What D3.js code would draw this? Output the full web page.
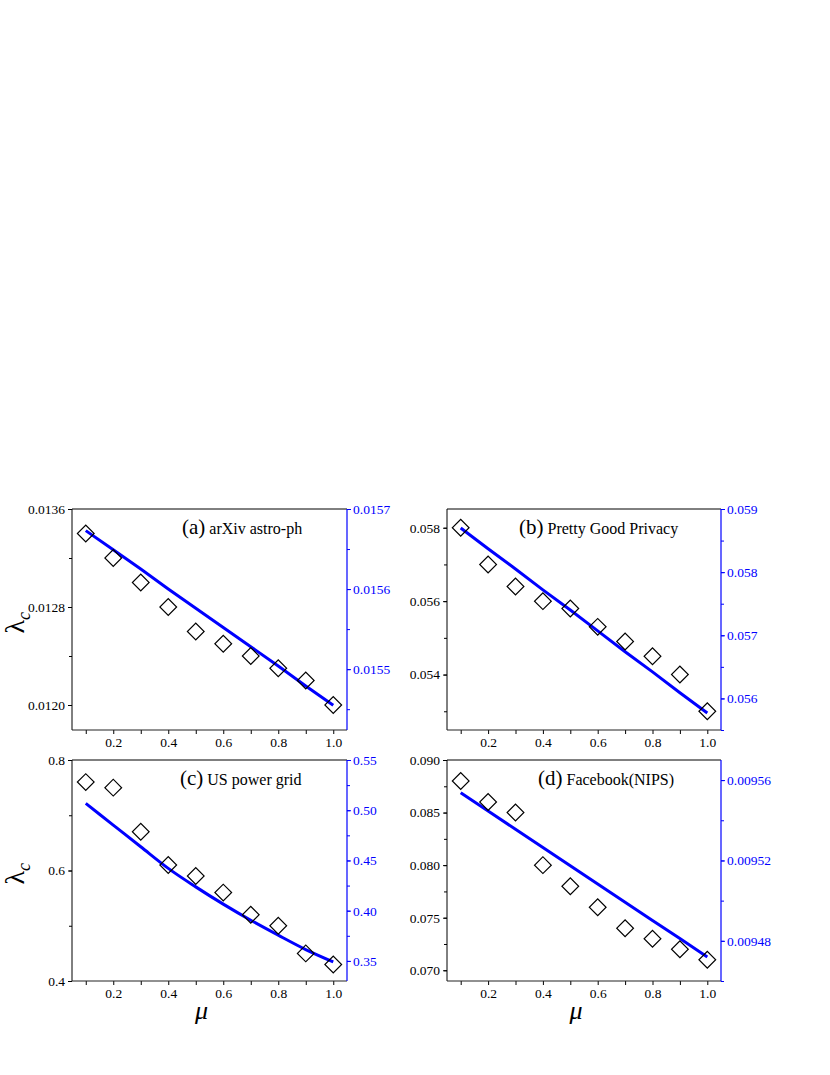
<!DOCTYPE html>
<html>
<head>
<meta charset="utf-8">
<script src="https://cdn.jsdelivr.net/npm/d3@7"></script>
<style>
  body { margin: 0; background: #fff; }
  svg { display: block; }
</style>
</head>
<body>
<svg id="chart" width="830" height="1075"></svg>
<script>
// mu values shared by all four panels
const mu = [0.1, 0.2, 0.3, 0.4, 0.5, 0.6, 0.7, 0.8, 0.9, 1.0];

// simulated lambda_c (diamonds, left axis)
const arxivLambda = [0.01340, 0.01320, 0.01300, 0.01280, 0.01260, 0.01250, 0.01240, 0.01230, 0.01220, 0.01200];
const pgpLambda = [0.0580, 0.0570, 0.0564, 0.0560, 0.0558, 0.0553, 0.0549, 0.0545, 0.0540, 0.0530];
const powerLambda = [0.76, 0.75, 0.67, 0.61, 0.59, 0.56, 0.52, 0.50, 0.45, 0.43];
const facebookLambda = [0.088, 0.086, 0.085, 0.080, 0.078, 0.076, 0.074, 0.073, 0.072, 0.071];

// theoretical lambda_c (blue line, right axis)
const arxivFit = [0.015673, 0.015649, 0.015625, 0.015600, 0.015576, 0.015552, 0.015528, 0.015504, 0.015479, 0.015455];
const pgpFit = [0.05870, 0.05837, 0.05805, 0.05772, 0.05740, 0.05707, 0.05674, 0.05642, 0.05609, 0.05577];
const powerFit = [0.5068, 0.4852, 0.4636, 0.4421, 0.4237, 0.4065, 0.3905, 0.3756, 0.3613, 0.3490];
const facebookFit = [0.0095537, 0.0095446, 0.0095355, 0.0095265, 0.0095174, 0.0095083, 0.0094992, 0.0094901, 0.0094811, 0.0094720];

// ticks
const xTicks = [0.1, 0.2, 0.3, 0.4, 0.5, 0.6, 0.7, 0.8, 0.9, 1.0];
const xTickLabels = [0.2, 0.4, 0.6, 0.8, 1.0];

const arxivLeftTicks = [0.0120, 0.0124, 0.0128, 0.0132, 0.0136];
const arxivLeftLabels = [0.0120, 0.0128, 0.0136];
const arxivRightTicks = [0.01545, 0.0155, 0.01555, 0.0156, 0.01565, 0.0157];
const arxivRightLabels = [0.0155, 0.0156, 0.0157];

const pgpLeftTicks = [0.053, 0.054, 0.055, 0.056, 0.057, 0.058];
const pgpLeftLabels = [0.054, 0.056, 0.058];
const pgpRightTicks = [0.0555, 0.056, 0.0565, 0.057, 0.0575, 0.058, 0.0585, 0.059];
const pgpRightLabels = [0.056, 0.057, 0.058, 0.059];

const powerLeftTicks = [0.4, 0.5, 0.6, 0.7, 0.8];
const powerLeftLabels = [0.4, 0.6, 0.8];
const powerRightTicks = [0.35, 0.375, 0.40, 0.425, 0.45, 0.475, 0.50, 0.525, 0.55];
const powerRightLabels = [0.35, 0.40, 0.45, 0.50, 0.55];

const facebookLeftTicks = [0.070, 0.0725, 0.075, 0.0775, 0.080, 0.0825, 0.085, 0.0875, 0.090];
const facebookLeftLabels = [0.070, 0.075, 0.080, 0.085, 0.090];
const facebookRightTicks = [0.00946, 0.00948, 0.00950, 0.00952, 0.00954, 0.00956];
const facebookRightLabels = [0.00948, 0.00952, 0.00956];

const font = "'Liberation Serif', 'Times New Roman', serif";
const blue = "#0000ff";

const panels = [
  {tag: "(a)", name: "arXiv astro-ph", left: 72, top: 509, w: 275, h: 221,
   lam: arxivLambda, fit: arxivFit, yDom: [0.011796, 0.0136], y2Dom: [0.015424, 0.0157],
   lt: arxivLeftTicks, ll: arxivLeftLabels, rt: arxivRightTicks, rl: arxivRightLabels,
   lf: ".4f", rf: ".4f", titleX: 182, yLabel: true, xLabel: false, smooth: false},
  {tag: "(b)", name: "Pretty Good Privacy", left: 447, top: 509, w: 274, h: 221,
   lam: pgpLambda, fit: pgpFit, yDom: [0.05249, 0.05851], y2Dom: [0.0555, 0.059],
   lt: pgpLeftTicks, ll: pgpLeftLabels, rt: pgpRightTicks, rl: pgpRightLabels,
   lf: ".3f", rf: ".3f", titleX: 519, yLabel: false, xLabel: false, smooth: false},
  {tag: "(c)", name: "US power grid", left: 72, top: 760, w: 275, h: 221,
   lam: powerLambda, fit: powerFit, yDom: [0.4, 0.8], y2Dom: [0.33, 0.55],
   lt: powerLeftTicks, ll: powerLeftLabels, rt: powerRightTicks, rl: powerRightLabels,
   lf: ".1f", rf: ".2f", titleX: 180, yLabel: true, xLabel: true, smooth: true},
  {tag: "(d)", name: "Facebook(NIPS)", left: 447, top: 760, w: 274, h: 221,
   lam: facebookLambda, fit: facebookFit, yDom: [0.06898, 0.090], y2Dom: [0.00946, 0.00957],
   lt: facebookLeftTicks, ll: facebookLeftLabels, rt: facebookRightTicks, rl: facebookRightLabels,
   lf: ".3f", rf: ".5f", titleX: 538, yLabel: false, xLabel: true, smooth: false}
];

const svg = d3.select("#chart");

function styleAxis(g, color) {
  g.attr("font-family", font).attr("font-size", 13.5);
  g.selectAll("text").attr("fill", color);
  g.selectAll("line").attr("stroke", color);
  g.select(".domain").remove();
}

panels.forEach(p => {
  const g = svg.append("g").attr("transform", `translate(${p.left},${p.top})`);

  const x = d3.scaleLinear().domain([0.05, 1.05]).range([0, p.w]);
  const y = d3.scaleLinear().domain(p.yDom).range([p.h, 0]);
  const y2 = d3.scaleLinear().domain(p.y2Dom).range([p.h, 0]);

  // bottom axis
  g.append("g").attr("transform", `translate(0,${p.h})`)
    .call(d3.axisBottom(x).tickValues(xTicks).tickSize(4).tickPadding(3)
      .tickFormat(d => xTickLabels.some(v => Math.abs(v - d) < 1e-9) ? d3.format(".1f")(d) : ""))
    .call(a => styleAxis(a, "#000"));

  // left axis: minor then major
  g.append("g")
    .call(d3.axisLeft(y).tickValues(p.lt).tickSize(3).tickFormat(""))
    .call(a => styleAxis(a, "#000"));
  g.append("g")
    .call(d3.axisLeft(y).tickValues(p.ll).tickSize(4).tickPadding(3).tickFormat(d3.format(p.lf)))
    .call(a => styleAxis(a, "#000"));

  // right axis
  g.append("g").attr("transform", `translate(${p.w},0)`)
    .call(d3.axisRight(y2).tickValues(p.rt).tickSize(3).tickFormat(""))
    .call(a => styleAxis(a, blue));
  g.append("g").attr("transform", `translate(${p.w},0)`)
    .call(d3.axisRight(y2).tickValues(p.rl).tickSize(4).tickPadding(2).tickFormat(d3.format(p.rf)))
    .call(a => styleAxis(a, blue));

  // frame
  g.append("line").attr("x1", 0).attr("x2", 0).attr("y1", 0).attr("y2", p.h).attr("stroke", "#000");
  g.append("line").attr("x1", 0).attr("x2", p.w).attr("y1", p.h).attr("y2", p.h).attr("stroke", "#222");
  g.append("line").attr("x1", 0).attr("x2", p.w).attr("y1", 0).attr("y2", 0).attr("stroke", "#000");
  g.append("line").attr("x1", p.w).attr("x2", p.w).attr("y1", 0).attr("y2", p.h)
    .attr("stroke", blue).attr("stroke-width", 1.2);

  // theory curve
  const line = d3.line().x((d, i) => x(mu[i])).y(d => y2(d))
    .curve(p.smooth ? d3.curveMonotoneX : d3.curveLinear);
  g.append("path").datum(p.fit).attr("d", line)
    .attr("fill", "none").attr("stroke", blue).attr("stroke-width", 3);

  // diamonds
  const diamond = d3.symbol().type(d3.symbolSquare).size(140);
  g.selectAll(".pt").data(p.lam).enter().append("path")
    .attr("class", "pt")
    .attr("d", diamond)
    .attr("transform", (d, i) => `translate(${x(mu[i])},${y(d)}) rotate(45)`)
    .attr("fill", "none").attr("stroke", "#000").attr("stroke-width", 1.2);

  // panel title
  const t = svg.append("text").attr("x", p.titleX).attr("y", p.top + 25)
    .attr("font-family", font).attr("fill", "#000");
  t.append("tspan").attr("font-size", 21).text(p.tag);
  t.append("tspan").attr("font-size", 16).attr("dx", 4).text(p.name);

  if (p.yLabel) {
    const yl = svg.append("text")
      .attr("transform", `translate(24,${p.top + p.h / 2 + 14}) rotate(-90)`)
      .attr("font-family", font).attr("fill", "#000");
    yl.append("tspan").attr("font-size", 28).text("λ");
    yl.append("tspan").attr("font-size", 18).attr("font-style", "italic").attr("dy", 6).text("c");
  }
  if (p.xLabel) {
    svg.append("text").attr("x", p.left + p.w / 2 - 8).attr("y", p.top + p.h + 38)
      .attr("text-anchor", "middle").attr("font-family", font)
      .attr("font-style", "italic").attr("font-size", 26).attr("fill", "#000")
      .text("μ");
  }
});
</script>
</body>
</html>
